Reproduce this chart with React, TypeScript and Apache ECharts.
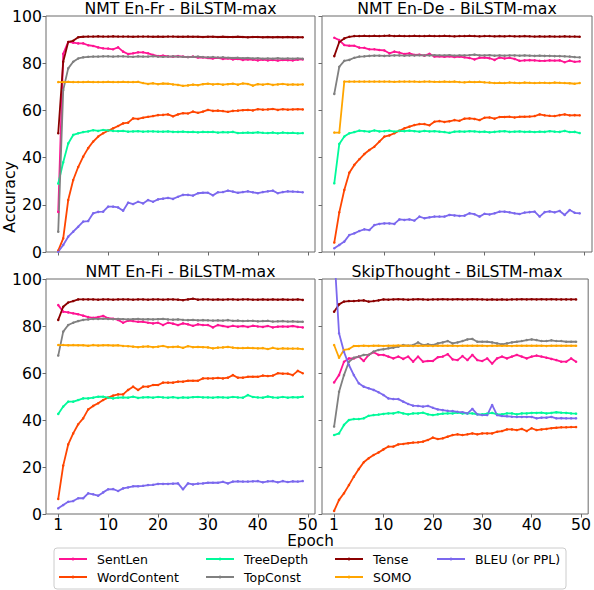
import React, { useEffect, useRef } from "react";
import * as echarts from "echarts";

// ---------- data ----------
const SERIES_NAMES = ["SentLen", "WordContent", "TreeDepth", "TopConst", "Tense", "SOMO", "BLEU (or PPL)"];
const SERIES_COLORS = ["#ff1493", "#ff4500", "#00fa9a", "#808080", "#8b0000", "#ffa500", "#7b68ee"];
const PANEL_TITLES = ["NMT En-Fr - BiLSTM-max", "NMT En-De - BiLSTM-max", "NMT En-Fi - BiLSTM-max", "SkipThought - BiLSTM-max"];
const EPOCH_LABELS = ["1", "10", "20", "30", "40", "50"];
const EPOCH_TICKS = [0, 10, 20, 30, 40, 50]; // epoch index positions of the tick labels
const Y_TICKS = [0, 20, 40, 60, 80, 100];

// NMT En-Fr
const frSentLen = [17, 84, 89, 88.7, 88.4, 88.4, 87.6, 87.3, 86.7, 86.3, 86.2, 85.9, 86.7, 84.9, 83.9, 84.2, 84.6, 84.6, 84.2, 83.5, 83.0, 83.2, 82.9, 82.8, 83.0, 82.8, 82.6, 82.8, 82.4, 82.5, 82.2, 82.0, 82.3, 81.8, 82.0, 81.6, 81.8, 81.4, 81.6, 81.5, 81.2, 81.5, 81.2, 81.4, 81.1, 81.4, 81.3, 81.2, 81.5, 81.6];
const frWordContent = [0.6, 5.8, 22, 30.5, 36, 40.4, 44, 46.8, 48.9, 50.3, 51.4, 52.4, 53.4, 54.5, 54.8, 56.6, 56.4, 56.9, 57.3, 57.6, 58.0, 58.1, 58.3, 57.5, 58.3, 58.8, 58.7, 59.5, 59.0, 59.5, 60.2, 59.8, 59.9, 59.7, 59.4, 59.8, 59.9, 60.1, 60.2, 60.0, 60.5, 60.3, 60.4, 60.6, 60.2, 60.5, 60.3, 60.4, 60.5, 60.4];
const frTreeDepth = [29, 38, 46, 49.6, 50.3, 50.8, 51.1, 51.6, 51.3, 51.7, 51.5, 51.3, 51.2, 51.3, 51.0, 51.1, 51.2, 51.0, 51.1, 51.1, 51.0, 51.0, 51.1, 50.9, 50.9, 51.0, 50.8, 50.9, 50.7, 50.9, 50.8, 50.9, 50.6, 50.8, 50.7, 50.9, 50.4, 50.5, 50.6, 50.5, 50.7, 50.5, 50.4, 50.6, 50.3, 50.6, 50.4, 50.5, 50.3, 50.4];
const frTopConst = [8.6, 68.6, 77.8, 80.6, 82, 82.5, 82.7, 82.8, 82.8, 82.9, 82.9, 82.8, 82.9, 82.9, 82.8, 82.7, 82.9, 82.8, 82.8, 83.0, 82.8, 82.7, 82.8, 82.9, 82.8, 82.7, 82.6, 82.7, 82.8, 82.6, 82.5, 82.6, 82.4, 82.5, 82.3, 82.2, 82.3, 82.1, 82.2, 82.0, 82.1, 81.9, 82.0, 81.9, 82.1, 81.9, 82.0, 81.9, 82.0, 81.9];
const frTense = [50.3, 80.6, 89, 89.5, 91, 91.2, 91.3, 91.3, 91.4, 91.3, 91.3, 91.4, 91.3, 91.3, 91.3, 91.2, 91.3, 91.3, 91.3, 91.2, 91.3, 91.2, 91.3, 91.3, 91.2, 91.2, 91.3, 91.2, 91.2, 91.1, 91.2, 91.2, 91.1, 91.2, 91.1, 91.1, 91.2, 91.1, 91.0, 91.1, 91.1, 91.0, 91.1, 91.0, 91.1, 91.0, 91.1, 91.0, 91.0, 91.0];
const frSOMO = [72.0, 72.0, 72.1, 72.0, 72.0, 72.0, 72.1, 72.0, 72.0, 72.0, 72.1, 72.0, 72.0, 72.1, 72.0, 72.0, 72.1, 71.6, 71.2, 71.5, 71.1, 71.4, 71.3, 71.0, 70.8, 70.4, 70.6, 70.9, 70.7, 71.1, 71.3, 71.0, 71.2, 70.9, 71.1, 71.3, 70.9, 71.4, 71.2, 70.5, 71.1, 70.9, 71.2, 70.8, 71.0, 71.2, 70.9, 71.0, 70.9, 71.0];
const frBLEU = [0.1, 3, 6.5, 8.6, 10.7, 12.9, 13.1, 16.4, 17, 17.1, 19.2, 19.2, 18.9, 17.5, 20.9, 20.3, 21.3, 20.6, 22, 21.3, 22.3, 22.6, 22.9, 22.5, 23.4, 24.2, 24.2, 23.9, 24.9, 25.1, 25.1, 24.0, 25.3, 25.4, 26.0, 25.6, 25.1, 25.4, 25.7, 25.3, 24.9, 25.4, 25.7, 26.0, 24.9, 25.4, 25.7, 25.6, 25.5, 25.3];

// NMT En-De
const deSentLen = [90.8, 89.8, 87.7, 87.4, 87.4, 86.6, 86.5, 85.9, 85.9, 85.6, 85.4, 84.2, 84.9, 84.5, 83.9, 84.2, 83.5, 83.6, 83.2, 84.0, 82.8, 82.9, 82.7, 82.9, 82.6, 82.8, 82.5, 82.2, 81.6, 82.3, 82.4, 82.1, 81.4, 82.4, 82.0, 82.3, 81.8, 81.0, 81.2, 81.3, 81.2, 81.0, 81.0, 81.2, 81.1, 81.2, 80.4, 81.1, 80.6, 80.8];
const deWordContent = [4, 16.8, 26.3, 33.6, 36.9, 39.3, 41.5, 43.2, 44.6, 46.8, 48.9, 49.4, 50.3, 51.4, 52.4, 53.1, 53.8, 54.2, 54.2, 53.7, 55.2, 55.5, 55.1, 55.4, 55.9, 55.6, 56.5, 56.6, 56.4, 55.9, 56.9, 57.0, 56.5, 57.2, 57.2, 57.3, 57.0, 57.3, 57.3, 57.4, 57.6, 58.3, 57.9, 57.7, 57.6, 58.0, 58.3, 57.9, 58.0, 57.9];
const deTreeDepth = [29.1, 45.8, 48.9, 50.3, 50.8, 51.4, 51.2, 51.0, 51.5, 51.1, 51.2, 51.4, 51.0, 51.3, 51.2, 51.4, 51.2, 51.0, 51.3, 51.1, 51.2, 51.0, 50.8, 50.5, 51.0, 51.1, 51.0, 51.2, 51.1, 50.9, 51.0, 50.7, 50.9, 51.1, 51.2, 50.9, 51.0, 51.1, 50.9, 51.0, 50.8, 51.0, 50.9, 51.2, 51.0, 50.9, 51.3, 50.8, 50.9, 50.4];
const deTopConst = [67, 78.5, 81, 81.4, 82.3, 82.8, 82.9, 83.1, 83.2, 83.2, 83.1, 83.2, 83.3, 83.3, 83.2, 83.3, 83.3, 83.4, 83.3, 83.3, 83.4, 83.3, 83.3, 83.4, 83.2, 83.3, 83.3, 83.4, 83.6, 83.3, 83.3, 83.4, 83.2, 83.3, 83.2, 83.3, 83.3, 83.2, 83.3, 83.2, 83.1, 83.2, 83.1, 83.1, 83.0, 83.0, 82.9, 82.8, 82.6, 82.5];
const deTense = [83, 89, 90.5, 91.2, 91.5, 91.5, 91.6, 91.5, 91.6, 91.5, 91.6, 91.7, 91.5, 91.6, 91.5, 91.5, 91.6, 91.5, 91.5, 91.6, 91.5, 91.5, 91.6, 91.5, 91.4, 91.5, 91.5, 91.6, 91.5, 91.4, 91.5, 91.5, 91.4, 91.5, 91.4, 91.5, 91.4, 91.4, 91.5, 91.4, 91.3, 91.4, 91.3, 91.4, 91.3, 91.3, 91.4, 91.3, 91.3, 91.2];
const deSOMO = [50.6, 50.6, 72.2, 72.2, 72.2, 72.2, 72.2, 72.2, 72.2, 72.2, 72.2, 72.2, 72.1, 72.2, 72.2, 72.2, 72.2, 72.1, 72.2, 72.2, 72.1, 72.1, 72.2, 72.1, 72.2, 72.0, 71.9, 72.1, 72.0, 72.1, 71.9, 71.8, 71.6, 71.7, 71.6, 71.8, 71.7, 71.6, 71.8, 71.7, 71.6, 71.7, 71.7, 71.6, 71.8, 71.7, 71.6, 71.5, 71.3, 71.6];
const deBLEU = [1.6, 3, 4.4, 7.2, 7.9, 8.9, 9.6, 9.3, 11.4, 11.9, 12.1, 12.1, 11.9, 13.8, 13.6, 13.8, 13.3, 15, 14.3, 14.7, 15.0, 15.0, 15.0, 15.7, 15.5, 15.3, 15.4, 16.4, 16.0, 15.0, 16.2, 15.9, 16.4, 17.1, 17.1, 16.8, 16.4, 16.1, 16.7, 16.9, 17.1, 15.0, 16.9, 17.2, 16.8, 17.4, 15.7, 17.8, 16.6, 16.4];

// NMT En-Fi
const fiSentLen = [88.9, 86.1, 85.8, 85.4, 85.0, 84.4, 83.8, 83.5, 83.8, 84.3, 83.3, 83.1, 82.6, 81.4, 82.3, 82.1, 81.8, 81.8, 81.4, 81.1, 81.4, 80.4, 81.4, 81.0, 80.4, 81.1, 80.7, 80.1, 80.7, 80.4, 80.4, 79.4, 80.4, 80.0, 79.6, 80.1, 79.7, 80.0, 79.6, 80.1, 79.8, 79.6, 80.0, 79.4, 79.7, 79.8, 79.7, 80.0, 79.6, 79.4];
const fiWordContent = [6.4, 20.6, 29.6, 34.3, 38.2, 40.7, 44.5, 46.0, 47.1, 48.5, 49.5, 50.4, 50.9, 50.9, 52.8, 54.2, 52.8, 54.2, 54.2, 54.9, 54.9, 55.9, 55.9, 55.9, 56.3, 56.3, 56.7, 56.7, 56.7, 57.7, 57.7, 57.7, 57.9, 57.7, 58.0, 59.1, 58.0, 58.0, 58.4, 58.4, 58.4, 58.9, 58.7, 58.9, 59.9, 59.7, 59.7, 59.1, 60.9, 59.9];
const fiTreeDepth = [42.6, 45.7, 47.8, 47.8, 48.5, 49.2, 49.2, 49.5, 49.9, 49.9, 49.5, 49.2, 49.5, 49.6, 49.5, 49.9, 49.4, 49.6, 49.7, 49.5, 49.8, 49.6, 49.5, 49.7, 49.4, 49.6, 49.5, 49.7, 49.8, 49.6, 49.6, 49.5, 49.7, 49.6, 49.5, 49.8, 49.6, 49.5, 50.6, 49.8, 49.6, 49.5, 50.0, 49.6, 49.5, 49.8, 49.5, 49.7, 49.6, 49.9];
const fiTopConst = [67.4, 77.6, 80.4, 81.4, 82.1, 82.6, 82.8, 83.0, 83.0, 83.1, 83.0, 82.9, 83.0, 82.9, 82.8, 82.9, 83.0, 82.8, 82.9, 82.8, 82.9, 83.0, 82.8, 82.7, 82.8, 82.6, 82.5, 82.6, 82.4, 82.5, 82.4, 82.3, 82.4, 82.3, 82.5, 82.2, 82.3, 82.1, 82.2, 82.2, 82.0, 82.1, 82.2, 81.9, 82.0, 82.1, 81.9, 82.0, 81.8, 81.8];
const fiTense = [82.6, 88.2, 90, 90.6, 91.3, 91.3, 91.3, 91.3, 91.2, 91.3, 91.3, 91.2, 91.3, 91.3, 91.3, 91.2, 91.3, 91.3, 91.2, 91.3, 91.3, 91.2, 91.3, 91.3, 91.2, 91.0, 91.3, 91.6, 91.2, 91.3, 91.3, 91.2, 91.3, 91.2, 91.3, 91.3, 91.2, 91.3, 91.3, 91.2, 91.2, 91.3, 91.2, 91.3, 91.2, 91.3, 91.2, 91.2, 91.3, 91.1];
const fiSOMO = [71.9, 71.9, 71.8, 71.9, 71.8, 71.8, 71.6, 71.9, 71.7, 71.8, 71.8, 71.7, 71.8, 71.5, 71.4, 71.2, 71.0, 71.2, 71.3, 71.0, 71.2, 71.5, 71.0, 71.1, 71.2, 70.7, 71.4, 71.0, 71.1, 71.0, 70.9, 70.5, 70.8, 70.9, 71.1, 70.8, 70.6, 70.6, 70.7, 70.6, 70.5, 70.6, 70.2, 70.7, 70.3, 70.5, 70.4, 70.4, 70.4, 70.2];
const fiBLEU = [2.4, 3.8, 5.2, 5.5, 6.7, 6.7, 8.8, 8.4, 7.8, 9.2, 10.5, 10.6, 9.8, 10.9, 11.3, 11.8, 11.8, 12.0, 12.3, 12.4, 12.8, 12.8, 12.8, 12.9, 13.0, 10.5, 13.0, 12.6, 12.9, 13.0, 13.3, 13.3, 13.3, 13.7, 13.0, 13.8, 13.9, 13.8, 13.8, 13.9, 14.0, 13.5, 13.9, 14.0, 13.5, 14.0, 13.6, 13.9, 13.8, 14.0];

// SkipThought
const stSentLen = [56, 59.1, 64.8, 66.2, 66.2, 67.0, 65.1, 67.7, 68.8, 67.7, 67.7, 67.0, 66.2, 67.0, 66.0, 67.0, 64.8, 67.0, 64.8, 65.1, 65.1, 66.7, 67.0, 68.0, 65.8, 65.5, 67.2, 65.5, 67.7, 65.5, 65.1, 66.2, 64.0, 66.2, 67.0, 66.2, 67.0, 67.7, 67.0, 66.2, 67.0, 67.4, 67.0, 66.5, 66.0, 65.5, 64.8, 64.8, 66.2, 64.8];
const stWordContent = [1.3, 6.0, 8.8, 12.3, 15.9, 19.1, 22.0, 23.7, 25.1, 26.2, 27.5, 28.7, 28.7, 29.6, 29.8, 30.1, 30.4, 30.5, 30.8, 31.5, 32.5, 31.9, 32.2, 32.9, 33.6, 33.9, 33.6, 33.9, 34.3, 33.9, 34.3, 34.3, 34.3, 35.0, 35.3, 36.0, 36.0, 35.7, 36.2, 35.3, 36.5, 35.7, 36.0, 36.2, 36.5, 36.7, 36.9, 36.9, 37.0, 37.0];
const stTreeDepth = [33.6, 34.3, 37.9, 40.0, 40.4, 40.4, 40.7, 41.8, 42.1, 42.3, 42.6, 42.8, 42.8, 43.3, 42.8, 42.4, 42.8, 42.8, 43.1, 42.4, 42.1, 42.4, 42.7, 42.8, 42.8, 43.1, 42.8, 42.8, 42.8, 42.4, 42.4, 42.7, 43.0, 42.4, 42.4, 42.8, 42.8, 42.4, 42.8, 42.8, 43.0, 43.0, 43.1, 42.8, 43.0, 43.3, 43.1, 43.0, 42.8, 42.7];
const stTopConst = [37.2, 52, 59.1, 64.8, 66.5, 67.0, 67.7, 67.7, 69.1, 69.8, 70.1, 70.5, 70.8, 71.2, 71.9, 71.6, 71.9, 73.0, 71.9, 72.2, 71.9, 72.6, 73.0, 73.6, 72.6, 73.0, 73.6, 74.3, 74.5, 73.3, 73.3, 73.3, 73.0, 72.6, 72.2, 72.6, 73.0, 73.3, 73.6, 74.0, 74.3, 74.0, 73.6, 73.6, 73.9, 73.6, 73.6, 73.3, 73.3, 73.3];
const stTense = [86.1, 89.2, 90.4, 90.6, 90.6, 90.8, 90.9, 90.4, 90.6, 90.9, 91.3, 91.2, 91.3, 91.4, 91.3, 91.2, 91.3, 91.4, 91.3, 91.2, 91.3, 91.3, 91.4, 91.3, 91.3, 91.4, 91.3, 91.3, 91.4, 91.3, 91.3, 91.2, 91.3, 91.2, 91.3, 91.2, 91.3, 91.3, 91.4, 91.3, 91.4, 91.3, 91.4, 91.3, 91.4, 91.3, 91.3, 91.3, 91.3, 91.3];
const stSOMO = [71.9, 66.5, 69.8, 70.2, 71.5, 71.5, 71.6, 71.5, 71.6, 71.6, 71.5, 71.6, 71.6, 71.7, 71.6, 71.6, 71.5, 71.6, 71.6, 71.6, 71.5, 71.6, 71.6, 71.6, 71.6, 71.5, 71.6, 71.6, 71.6, 71.6, 71.6, 71.5, 71.6, 71.6, 71.6, 71.6, 71.5, 71.6, 71.6, 71.6, 71.6, 71.6, 71.6, 71.5, 71.6, 71.6, 71.6, 71.6, 71.6, 71.6];
const stPPL = [112, 76.9, 69, 63.4, 59.1, 55.6, 54.2, 53.5, 52.8, 51.8, 50.6, 49.2, 48.9, 48.9, 47.8, 46.8, 46.1, 46.0, 45.7, 46.0, 45.2, 44.5, 44.2, 43.9, 43.8, 43.5, 43.3, 42.8, 44.7, 42.4, 42.1, 42.1, 46.4, 42.1, 41.7, 41.6, 41.4, 41.3, 41.3, 41.3, 41.3, 40.7, 41.0, 41.0, 41.3, 40.7, 40.8, 40.7, 40.7, 40.7];

const PANEL_DATA = [
  [frSentLen, frWordContent, frTreeDepth, frTopConst, frTense, frSOMO, frBLEU],
  [deSentLen, deWordContent, deTreeDepth, deTopConst, deTense, deSOMO, deBLEU],
  [fiSentLen, fiWordContent, fiTreeDepth, fiTopConst, fiTense, fiSOMO, fiBLEU],
  [stSentLen, stWordContent, stTreeDepth, stTopConst, stTense, stSOMO, stPPL],
];

// ---------- layout / style ----------
const FONT = "DejaVu Sans";
const SPINE = "#6a6a6a";
const GRIDS = [
  { left: 46, top: 16, width: 269, height: 236 },
  { left: 322, top: 16, width: 270, height: 236 },
  { left: 46, top: 279, width: 269, height: 235 },
  { left: 322, top: 279, width: 270, height: 235 },
];
const TITLE_Y = [8.6, 8.6, 271, 271];
const LEGEND_BOX = { x: 54, y: 548, width: 512, height: 41 };
const LEGEND_COL_X = [59, 206, 335, 437];
const LEGEND_ROW_Y = [559, 577];

function buildOption() {
  const series: any[] = [];
  PANEL_DATA.forEach((panel, p) => {
    panel.forEach((vals, s) => {
      series.push({
        type: "line",
        name: SERIES_NAMES[s],
        xAxisIndex: p,
        yAxisIndex: p,
        data: vals.map((v, i) => [i, v]),
        color: SERIES_COLORS[s],
        lineStyle: { width: 1.8, color: SERIES_COLORS[s] },
        itemStyle: { color: SERIES_COLORS[s] },
        symbol: "circle",
        symbolSize: 2.5,
        showSymbol: true,
        clip: true,
        silent: true,
      });
    });
  });

  const textStyle = (text: string, size: number, align: string, lineHeight?: number) => ({
    text,
    font: `${size}px "${FONT}"`,
    fill: "#000",
    align,
    verticalAlign: "middle",
    textAlign: align,
    textVerticalAlign: "middle",
    ...(lineHeight ? { lineHeight } : {}),
  });

  const graphic: any[] = [];
  GRIDS.forEach((g, p) => {
    graphic.push({ type: "text", x: g.left + g.width / 2, y: TITLE_Y[p], style: textStyle(PANEL_TITLES[p], 15.7, "center") });
  });
  graphic.push({ type: "text", x: 9, y: 197, rotation: Math.PI / 2, style: textStyle("Accuracy", 15.7, "center") });
  graphic.push({ type: "text", x: 310.5, y: 541, style: textStyle("Epoch", 15.2, "center", 14) });
  graphic.push({
    type: "rect",
    shape: { x: LEGEND_BOX.x, y: LEGEND_BOX.y, width: LEGEND_BOX.width, height: LEGEND_BOX.height, r: 3 },
    style: { fill: "#fff", stroke: "#cccccc", lineWidth: 1 },
  });
  SERIES_NAMES.forEach((name, k) => {
    const cx = LEGEND_COL_X[Math.floor(k / 2)];
    const cy = LEGEND_ROW_Y[k % 2];
    graphic.push({ type: "line", shape: { x1: cx, y1: cy, x2: cx + 28, y2: cy }, style: { stroke: SERIES_COLORS[k], lineWidth: 2 } });
    graphic.push({ type: "circle", shape: { cx: cx + 14, cy, r: 1.5 }, style: { fill: SERIES_COLORS[k] } });
    graphic.push({ type: "text", x: cx + 38, y: cy, style: textStyle(name, 12.5, "left") });
  });

  return {
    animation: false,
    backgroundColor: "#fff",
    grid: GRIDS.map((g) => ({ ...g, show: true, borderColor: SPINE, borderWidth: 1, backgroundColor: "transparent", containLabel: false })),
    xAxis: GRIDS.map((_, p) => ({
      type: "value",
      gridIndex: p,
      min: -2.45,
      max: 51.45,
      splitLine: { show: false },
      axisLine: { show: false, onZero: false },
      axisTick: { show: true, length: 3.5, lineStyle: { color: SPINE, width: 1 }, customValues: EPOCH_TICKS },
      axisLabel: {
        show: p >= 2,
        customValues: EPOCH_TICKS,
        formatter: (v: number) => EPOCH_LABELS[EPOCH_TICKS.indexOf(v)] ?? "",
        margin: 4,
        lineHeight: 13,
        color: "#000",
        fontFamily: FONT,
        fontSize: 15.7,
      },
    })),
    yAxis: GRIDS.map((_, p) => ({
      type: "value",
      gridIndex: p,
      min: 0,
      max: 100,
      interval: 20,
      splitLine: { show: false },
      axisLine: { show: false, onZero: false },
      axisTick: { show: true, length: 3.5, lineStyle: { color: SPINE, width: 1 }, customValues: Y_TICKS },
      axisLabel: {
        show: p % 2 === 0,
        customValues: Y_TICKS,
        margin: 4,
        color: "#000",
        fontFamily: FONT,
        fontSize: 15.7,
      },
    })),
    series,
    graphic,
  };
}

export default function App() {
  const ref = useRef<HTMLDivElement>(null);
  useEffect(() => {
    if (!ref.current) return;
    const chart = echarts.init(ref.current, null, { renderer: "svg" });
    chart.setOption(buildOption() as any);
    return () => chart.dispose();
  }, []);
  return <div ref={ref} style={{ position: "fixed", left: 0, top: 0, width: 594, height: 590 }} />;
}
